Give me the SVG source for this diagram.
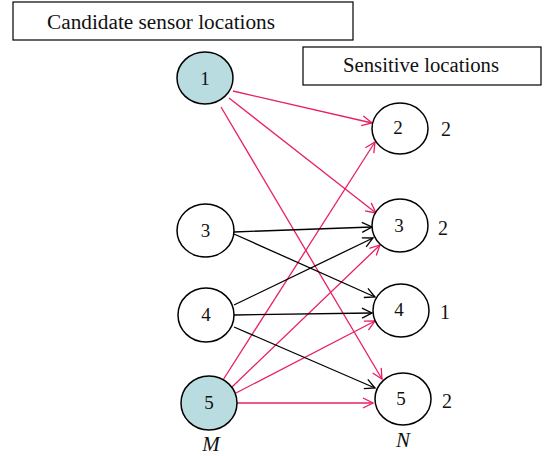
<svg xmlns="http://www.w3.org/2000/svg" width="544" height="456" viewBox="0 0 544 456">
<style>
.box{fill:#fff;stroke:#000;stroke-width:1.2}
.t{font-family:"Liberation Serif",serif;font-size:20.5px;fill:#111}
.n{font-family:"Liberation Serif",serif;font-size:19px;fill:#111;text-anchor:middle}
.w{font-size:20px}
.it{font-style:italic;font-size:21px}
.src{fill:#b9dce0;stroke:#000;stroke-width:1.5}
.dst{fill:#fff;stroke:#000;stroke-width:1.5}
.p{stroke:#e8205f;stroke-width:1.3;fill:none;marker-end:url(#ap)}
.k{stroke:#000;stroke-width:1.3;fill:none;marker-end:url(#ak)}
</style>
<defs>
<marker id="ap" viewBox="0 0 12 12" refX="11" refY="6" markerWidth="12" markerHeight="12" markerUnits="userSpaceOnUse" orient="auto">
<path d="M1,1 L11,6 L1,11" fill="none" stroke="#e8205f" stroke-width="1.3"/>
</marker>
<marker id="ak" viewBox="0 0 12 12" refX="11" refY="6" markerWidth="12" markerHeight="12" markerUnits="userSpaceOnUse" orient="auto">
<path d="M1,1 L11,6 L1,11" fill="none" stroke="#000" stroke-width="1.3"/>
</marker>
</defs>
<g id="label-candidate">
<rect class="box" x="13" y="2" width="340" height="38"/>
<text class="t" x="47" y="29" textLength="228" lengthAdjust="spacingAndGlyphs">Candidate sensor locations</text>
</g>
<g id="label-sensitive">
<rect class="box" x="303" y="47" width="238" height="38"/>
<text class="t" x="343" y="72" textLength="156" lengthAdjust="spacingAndGlyphs">Sensitive locations</text>
</g>
<g id="connectors">
<line class="p" x1="233" y1="91" x2="372" y2="123"/>
<line class="p" x1="229" y1="98" x2="376" y2="213"/>
<line class="p" x1="221" y1="107" x2="382" y2="379"/>
<line class="p" x1="223" y1="380" x2="375" y2="142"/>
<line class="p" x1="232" y1="387" x2="380" y2="245"/>
<line class="p" x1="236" y1="393" x2="375" y2="321"/>
<line class="p" x1="237" y1="403" x2="373" y2="403"/>
<line class="k" x1="234" y1="232" x2="372" y2="227"/>
<line class="k" x1="234" y1="234" x2="375" y2="297"/>
<line class="k" x1="234" y1="305" x2="373" y2="238"/>
<line class="k" x1="234" y1="315" x2="372" y2="313"/>
<line class="k" x1="234" y1="327" x2="375" y2="388"/>
</g>
<g id="m1"><ellipse class="src" cx="205" cy="78" rx="28" ry="26"/><text class="n" x="205" y="85">1</text></g>
<g id="m3"><ellipse class="dst" cx="205.5" cy="230.5" rx="28.5" ry="26.5"/><text class="n" x="205.5" y="237">3</text></g>
<g id="m4"><ellipse class="dst" cx="206" cy="315" rx="28" ry="27"/><text class="n" x="206" y="321">4</text></g>
<g id="m5"><ellipse class="src" cx="209" cy="403" rx="28" ry="27"/><text class="n" x="209" y="409">5</text></g>
<g id="n2"><ellipse class="dst" cx="400" cy="128.5" rx="28" ry="25.5"/><text class="n" x="398" y="134">2</text><text class="n w" x="446" y="136">2</text></g>
<g id="n3"><ellipse class="dst" cx="400" cy="225.5" rx="28" ry="26.5"/><text class="n" x="399" y="232">3</text><text class="n w" x="443" y="235">2</text></g>
<g id="n4"><ellipse class="dst" cx="401" cy="310.5" rx="28" ry="26.5"/><text class="n" x="399" y="316">4</text><text class="n w" x="445" y="319">1</text></g>
<g id="n5"><ellipse class="dst" cx="403" cy="399" rx="28" ry="26"/><text class="n" x="401" y="405">5</text><text class="n w" x="447" y="408">2</text></g>
<text class="n it" x="211" y="451">M</text>
<text class="n it" x="403" y="447">N</text>
</svg>
